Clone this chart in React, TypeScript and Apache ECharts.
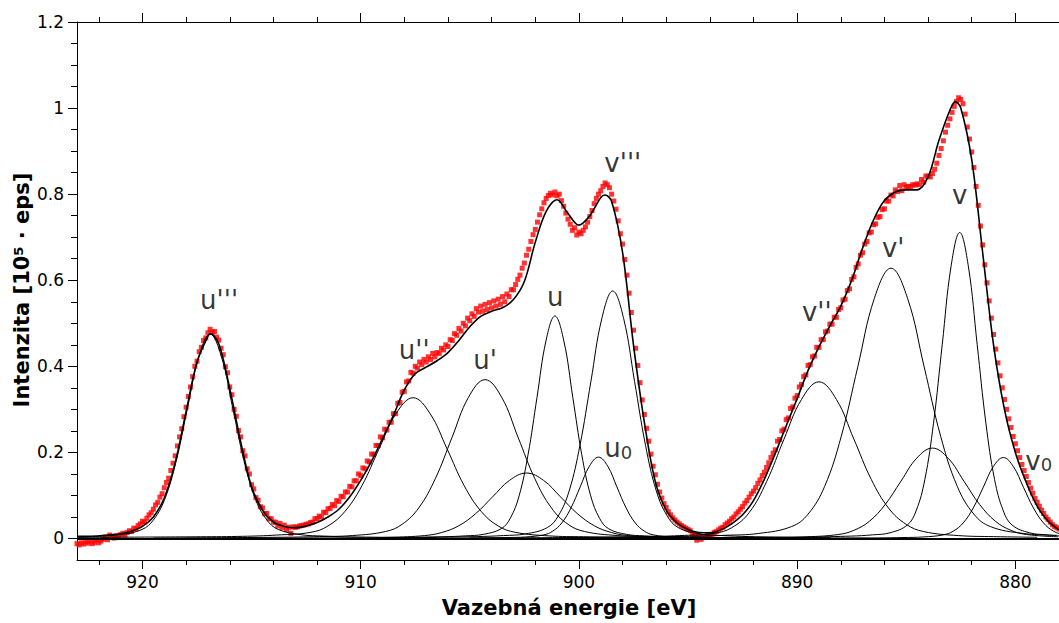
import React, { useEffect, useRef } from "react";
import * as echarts from "echarts";

// ---- axes ----
const X_MIN = 878;
const X_MAX = 923;
const Y_MIN = -0.05;
const Y_MAX = 1.2;
const X_MAJOR = [880, 890, 900, 910, 920];
const X_MINOR = [882, 884, 886, 888, 892, 894, 896, 898, 902, 904, 906, 908, 912, 914, 916, 918, 922];
const Y_MAJOR = [0, 0.2, 0.4, 0.6, 0.8, 1, 1.2];
const Y_MINOR = [0.05, 0.1, 0.15, 0.25, 0.3, 0.35, 0.45, 0.5, 0.55, 0.65, 0.7, 0.75, 0.85, 0.9, 0.95, 1.05, 1.1, 1.15];

// ---- measured spectrum: energy grid start & step (eV) and intensities ----
const MEAS_E_START = 923.0;
const MEAS_E_STEP = 0.1;
const MEASURED = [
  -0.012, -0.015, -0.010, -0.013, -0.008, -0.011, -0.006, -0.012, -0.009, -0.004,
  -0.010, -0.006, -0.002, 0.004, -0.003, 0.008, 0.005, 0.001, 0.006, 0.003,
  0.009, 0.012, 0.008, 0.014, 0.018, 0.016, 0.024, 0.022, 0.030, 0.034,
  0.040, 0.038, 0.047, 0.055, 0.060, 0.068, 0.078, 0.084, 0.096, 0.104,
  0.118, 0.130, 0.140, 0.158, 0.175, 0.192, 0.215, 0.236, 0.255, 0.283,
  0.305, 0.330, 0.352, 0.376, 0.400, 0.412, 0.434, 0.444, 0.460, 0.466,
  0.478, 0.486, 0.479, 0.481, 0.468, 0.461, 0.442, 0.427, 0.399, 0.385,
  0.352, 0.334, 0.300, 0.284, 0.251, 0.236, 0.204, 0.192, 0.162, 0.150,
  0.125, 0.115, 0.095, 0.089, 0.074, 0.071, 0.057, 0.058, 0.046, 0.046,
  0.038, 0.038, 0.029, 0.035, 0.025, 0.031, 0.021, 0.026, 0.012, 0.027,
  0.026, 0.027, 0.029, 0.030, 0.031, 0.033, 0.034, 0.037, 0.038, 0.046,
  0.046, 0.052, 0.050, 0.061, 0.060, 0.069, 0.070, 0.079, 0.076, 0.088,
  0.086, 0.098, 0.097, 0.108, 0.108, 0.121, 0.120, 0.134, 0.134, 0.150,
  0.146, 0.164, 0.162, 0.180, 0.178, 0.196, 0.196, 0.216, 0.216, 0.236,
  0.234, 0.254, 0.252, 0.270, 0.270, 0.290, 0.290, 0.314, 0.316, 0.340,
  0.342, 0.364, 0.366, 0.386, 0.384, 0.400, 0.396, 0.410, 0.404, 0.416,
  0.410, 0.422, 0.416, 0.430, 0.422, 0.432, 0.430, 0.442, 0.438, 0.450,
  0.446, 0.462, 0.460, 0.476, 0.472, 0.488, 0.482, 0.500, 0.494, 0.512,
  0.506, 0.522, 0.516, 0.534, 0.526, 0.540, 0.528, 0.544, 0.532, 0.548,
  0.536, 0.552, 0.540, 0.556, 0.544, 0.562, 0.550, 0.568, 0.562, 0.578,
  0.578, 0.590, 0.602, 0.612, 0.628, 0.640, 0.658, 0.672, 0.690, 0.706,
  0.718, 0.735, 0.752, 0.766, 0.780, 0.790, 0.797, 0.802, 0.798, 0.805,
  0.796, 0.800, 0.785, 0.772, 0.756, 0.742, 0.730, 0.716, 0.722, 0.705,
  0.712, 0.708, 0.716, 0.724, 0.735, 0.748, 0.762, 0.778, 0.790, 0.800,
  0.808, 0.818, 0.826, 0.822, 0.815, 0.800, 0.784, 0.765, 0.738, 0.708,
  0.684, 0.648, 0.612, 0.570, 0.525, 0.484, 0.442, 0.402, 0.362, 0.322,
  0.288, 0.256, 0.226, 0.196, 0.168, 0.148, 0.126, 0.108, 0.094, 0.081,
  0.072, 0.062, 0.055, 0.048, 0.043, 0.038, 0.034, 0.030, 0.027, 0.024,
  0.021, 0.018, 0.012, 0.008, -0.004, 0.006, -0.002, 0.004, 0.002, 0.008,
  0.006, 0.010, 0.014, 0.016, 0.020, 0.024, 0.026, 0.032, 0.036, 0.040,
  0.046, 0.050, 0.057, 0.062, 0.068, 0.074, 0.082, 0.088, 0.096, 0.104,
  0.110, 0.118, 0.128, 0.136, 0.146, 0.154, 0.165, 0.176, 0.188, 0.198,
  0.206, 0.226, 0.230, 0.250, 0.254, 0.276, 0.280, 0.302, 0.306, 0.326,
  0.332, 0.352, 0.358, 0.376, 0.380, 0.402, 0.404, 0.422, 0.424, 0.444,
  0.444, 0.462, 0.462, 0.480, 0.482, 0.498, 0.498, 0.514, 0.514, 0.532,
  0.536, 0.554, 0.556, 0.576, 0.580, 0.602, 0.608, 0.630, 0.638, 0.658,
  0.664, 0.684, 0.690, 0.710, 0.712, 0.729, 0.731, 0.746, 0.748, 0.764,
  0.766, 0.784, 0.784, 0.798, 0.796, 0.810, 0.806, 0.820, 0.808, 0.822,
  0.816, 0.818, 0.818, 0.822, 0.821, 0.824, 0.822, 0.834, 0.828, 0.842,
  0.842, 0.840, 0.848, 0.858, 0.872, 0.890, 0.906, 0.924, 0.944, 0.960,
  0.975, 0.990, 1.004, 1.015, 1.024, 1.020, 1.010, 0.986, 0.956, 0.928,
  0.898, 0.862, 0.818, 0.774, 0.726, 0.682, 0.636, 0.594, 0.552, 0.512,
  0.474, 0.440, 0.408, 0.378, 0.350, 0.323, 0.300, 0.278, 0.258, 0.237,
  0.220, 0.204, 0.188, 0.172, 0.158, 0.144, 0.130, 0.117, 0.105, 0.093,
  0.084, 0.075, 0.066, 0.058, 0.050, 0.044, 0.038, 0.032, 0.028, 0.025,
  0.022,
];

// ---- total fit envelope [E, I] ----
const FIT = [
  [923.0, 0.005], [922.5, 0.005], [922.0, 0.006], [921.5, 0.008], [921.0, 0.011], [920.5, 0.017],
  [920.0, 0.028], [919.5, 0.050], [919.0, 0.094], [918.5, 0.176], [918.0, 0.295], [917.5, 0.410],
  [917.0, 0.470], [916.9, 0.476], [916.5, 0.452], [916.0, 0.348], [915.5, 0.225], [915.0, 0.120],
  [914.5, 0.066], [914.0, 0.038], [913.5, 0.028], [913.0, 0.025], [912.5, 0.029], [912.0, 0.037],
  [911.5, 0.050], [911.0, 0.068], [910.5, 0.097], [910.0, 0.135], [909.5, 0.180], [909.0, 0.232],
  [908.5, 0.286], [908.0, 0.345], [907.5, 0.383], [907.0, 0.398], [906.5, 0.413], [906.0, 0.432],
  [905.5, 0.460], [905.0, 0.492], [904.5, 0.516], [904.0, 0.528], [903.5, 0.536], [903.0, 0.555],
  [902.5, 0.597], [902.0, 0.688], [901.5, 0.760], [901.0, 0.787], [900.5, 0.755], [900.0, 0.728],
  [899.5, 0.750], [899.0, 0.792], [898.8, 0.798], [898.5, 0.783], [898.0, 0.665], [897.5, 0.450],
  [897.0, 0.270], [896.5, 0.132], [896.0, 0.066], [895.5, 0.036], [895.0, 0.021], [894.5, 0.014],
  [894.0, 0.013], [893.5, 0.020], [893.0, 0.034], [892.5, 0.055], [892.0, 0.088], [891.5, 0.138],
  [891.0, 0.198], [890.5, 0.262], [890.0, 0.325], [889.5, 0.390], [889.0, 0.445], [888.5, 0.494],
  [888.0, 0.540], [887.5, 0.600], [887.0, 0.675], [886.5, 0.740], [886.0, 0.785], [885.5, 0.805],
  [885.0, 0.810], [884.5, 0.810], [884.0, 0.840], [883.5, 0.925], [883.0, 0.995], [882.75, 1.015],
  [882.5, 1.000], [882.0, 0.880], [881.5, 0.665], [881.0, 0.450], [880.5, 0.300], [880.0, 0.200],
  [879.5, 0.130], [879.0, 0.075], [878.5, 0.040], [878.0, 0.020],
];

// ---- fitted components [E, I] ----
const COMP_U3 = [
  [923.0, 0.004], [921.06, 0.0088], [920.02, 0.021], [919.5, 0.043], [918.98, 0.091], [918.46, 0.179],
  [917.94, 0.302], [917.42, 0.422], [916.9, 0.475], [916.38, 0.422], [915.86, 0.302], [915.34, 0.179],
  [914.82, 0.091], [914.3, 0.043], [913.78, 0.021], [912.74, 0.0088], [911.7, 0.0056], [910.4, 0.0037], [906.5, 0.0015],
];
const COMP_U2 = [
  [923.0, 0.0025], [917.35, 0.004], [915.4, 0.005], [913.84, 0.008], [912.28, 0.0144], [911.5, 0.029],
  [910.72, 0.063], [909.94, 0.123], [909.16, 0.208], [908.38, 0.29], [907.6, 0.327], [906.82, 0.29],
  [906.04, 0.208], [905.26, 0.123], [904.48, 0.063], [903.7, 0.029], [902.92, 0.0144], [901.36, 0.006],
  [899.8, 0.004], [897.85, 0.0025], [892.0, 0.001],
];
const COMP_U1 = [
  [919.5, 0.0011], [913.8, 0.0028], [911.9, 0.0044], [910.38, 0.0068], [908.86, 0.0162], [908.1, 0.033],
  [907.34, 0.071], [906.58, 0.139], [905.82, 0.234], [905.06, 0.328], [904.3, 0.369], [903.54, 0.328],
  [902.78, 0.234], [902.02, 0.139], [901.26, 0.071], [900.5, 0.033], [899.74, 0.0162], [898.22, 0.0068],
  [896.7, 0.0044], [894.8, 0.0028], [889.1, 0.0011],
];
const COMP_UX = [
  [918.0, 0.0005], [912.15, 0.0012], [910.2, 0.0018], [908.64, 0.0028], [907.08, 0.0067], [906.3, 0.0137],
  [905.52, 0.0292], [904.74, 0.0573], [903.96, 0.0965], [903.18, 0.135], [902.4, 0.152], [901.62, 0.135],
  [900.84, 0.0965], [900.06, 0.0573], [899.28, 0.0292], [898.5, 0.0137], [897.72, 0.0067], [896.16, 0.0028],
  [894.6, 0.0018], [892.65, 0.0012], [886.8, 0.0005],
];
const COMP_U = [
  [909.3, 0.0016], [906.225, 0.004], [905.2, 0.0061], [904.38, 0.0096], [903.56, 0.0227], [903.15, 0.0465],
  [902.74, 0.099], [902.33, 0.195], [901.92, 0.328], [901.51, 0.459], [901.1, 0.517], [900.69, 0.459],
  [900.28, 0.328], [899.87, 0.195], [899.46, 0.099], [899.05, 0.0465], [898.64, 0.0227], [897.82, 0.0096],
  [897.0, 0.0061], [895.975, 0.004], [892.9, 0.0016],
];
const COMP_U0 = [
  [907.5, 0.0006], [904.35, 0.0015], [903.3, 0.0022], [902.46, 0.0035], [901.62, 0.0083], [901.2, 0.017],
  [900.78, 0.0363], [900.36, 0.0713], [899.94, 0.12], [899.52, 0.168], [899.1, 0.189], [898.68, 0.168],
  [898.26, 0.12], [897.84, 0.0713], [897.42, 0.0363], [897.0, 0.017], [896.58, 0.0083], [895.74, 0.0035],
  [894.9, 0.0022], [893.85, 0.0015], [890.7, 0.0006],
];
const COMP_V3 = [
  [908.45, 0.0018], [904.7, 0.0044], [903.45, 0.0068], [902.45, 0.0106], [901.45, 0.0253], [900.95, 0.052],
  [900.45, 0.11], [899.95, 0.217], [899.45, 0.365], [898.95, 0.511], [898.45, 0.575], [897.95, 0.511],
  [897.45, 0.365], [896.95, 0.217], [896.45, 0.11], [895.95, 0.052], [895.45, 0.0253], [894.45, 0.0106],
  [893.45, 0.0068], [892.2, 0.0044], [888.45, 0.0018],
];
const COMP_V2 = [
  [905.0, 0.0011], [899.0, 0.0028], [897.0, 0.0043], [895.4, 0.0067], [893.8, 0.012], [893.0, 0.025],
  [892.2, 0.06], [891.4, 0.132], [890.6, 0.231], [889.8, 0.323], [889.0, 0.364], [888.2, 0.323],
  [887.4, 0.231], [886.6, 0.137], [885.8, 0.07], [885.0, 0.0328], [884.2, 0.016], [882.6, 0.0067],
  [881.0, 0.0043], [879.0, 0.0028],
];
const COMP_V1 = [
  [900.9, 0.0019], [895.2, 0.0048], [893.3, 0.0074], [891.78, 0.0116], [890.26, 0.0276], [889.5, 0.0565],
  [888.74, 0.121], [887.98, 0.237], [887.22, 0.399], [886.46, 0.558], [885.7, 0.628], [884.94, 0.558],
  [884.18, 0.399], [883.42, 0.237], [882.66, 0.121], [881.9, 0.0565], [881.14, 0.0276], [879.62, 0.0116],
  [878.1, 0.0074],
];
const COMP_VX = [
  [898.2, 0.00065], [892.8, 0.0016], [891.0, 0.0025], [889.56, 0.0039], [888.12, 0.0092], [887.4, 0.0189],
  [886.68, 0.0403], [885.96, 0.0792], [885.24, 0.1334], [884.52, 0.1865], [883.8, 0.21], [883.08, 0.1865],
  [882.36, 0.1334], [881.64, 0.0792], [880.92, 0.0403], [880.2, 0.0189], [879.48, 0.0092], [878.04, 0.0039],
];
const COMP_V = [
  [890.55, 0.0022], [887.55, 0.0055], [886.55, 0.0084], [885.75, 0.0132], [884.95, 0.0313], [884.55, 0.064],
  [884.15, 0.1365], [883.75, 0.268], [883.35, 0.451], [882.95, 0.631], [882.55, 0.711], [882.15, 0.631],
  [881.75, 0.451], [881.35, 0.268], [880.95, 0.1365], [880.55, 0.064], [880.15, 0.0313], [879.35, 0.0132],
  [878.55, 0.0084], [878.0, 0.006],
];
const COMP_V0 = [
  [889.75, 0.0006], [886.3, 0.0014], [885.15, 0.0022], [884.23, 0.0035], [883.31, 0.0083], [882.85, 0.0169],
  [882.39, 0.0361], [881.93, 0.0709], [881.47, 0.119], [881.01, 0.167], [880.55, 0.188], [880.09, 0.167],
  [879.63, 0.119], [879.17, 0.0709], [878.71, 0.0361], [878.25, 0.0169], [877.79, 0.0083],
];
const COMPONENTS = [COMP_U3, COMP_U2, COMP_U1, COMP_UX, COMP_U, COMP_U0, COMP_V3, COMP_V2, COMP_V1, COMP_VX, COMP_V, COMP_V0];

// ---- peak labels ----
const PEAK_NAMES = ["u'''", "u''", "u'", "u", "u{sub|0}", "v'''", "v''", "v'", "v", "v{sub|0}"];
const PEAK_E = [916.49, 907.55, 904.3, 901.09, 898.2, 897.99, 889.1, 885.6, 882.55, 878.93];
const PEAK_I = [0.553, 0.437, 0.414, 0.562, 0.21, 0.872, 0.526, 0.674, 0.797, 0.181];

const FONT = "DejaVu Sans";

function buildOption() {
  const measured = MEASURED.map((v, i) => [Math.round((MEAS_E_START - i * MEAS_E_STEP) * 100) / 100, v]);
  const baseX = {
    type: "value",
    min: X_MIN,
    max: X_MAX,
    inverse: true,
    splitLine: { show: false },
  };
  const baseY = {
    type: "value",
    min: Y_MIN,
    max: Y_MAX,
    splitLine: { show: false },
  };
  const line = { show: true, onZero: false, lineStyle: { color: "#000", width: 1 } };
  const tickStyle = { color: "#000", width: 1 };

  const componentSeries = COMPONENTS.map((c, i) => ({
    type: "line",
    name: "c" + i,
    data: c,
    smooth: 0.4,
    showSymbol: false,
    symbol: "none",
    silent: true,
    lineStyle: { color: "#000", width: 1 },
    z: 3,
  }));

  return {
    animation: false,
    backgroundColor: "#fff",
    textStyle: { fontFamily: FONT },
    grid: { left: 77, top: 22, width: 985, height: 538, containLabel: false },
    xAxis: [
      {
        ...baseX,
        position: "bottom",
        axisLine: line,
        axisTick: { show: true, customValues: X_MINOR, length: 5, lineStyle: tickStyle },
        axisLabel: { show: false },
      },
      {
        ...baseX,
        position: "bottom",
        axisLine: { show: false, onZero: false },
        axisTick: { show: true, customValues: X_MAJOR, length: 9, lineStyle: tickStyle },
        axisLabel: {
          show: true,
          customValues: X_MAJOR,
          color: "#000",
          fontSize: 17,
          fontFamily: FONT,
          margin: 13,
          formatter: (v: number) => String(v),
        },
      },
      {
        ...baseX,
        position: "top",
        axisLine: line,
        axisTick: { show: true, customValues: X_MINOR, length: 5, lineStyle: tickStyle },
        axisLabel: { show: false },
      },
      {
        ...baseX,
        position: "top",
        axisLine: { show: false, onZero: false },
        axisTick: { show: true, customValues: X_MAJOR, length: 9, lineStyle: tickStyle },
        axisLabel: { show: false },
      },
    ],
    yAxis: [
      {
        ...baseY,
        position: "left",
        axisLine: line,
        axisTick: { show: true, customValues: Y_MINOR, length: 6, lineStyle: tickStyle },
        axisLabel: { show: false },
      },
      {
        ...baseY,
        position: "left",
        axisLine: { show: false, onZero: false },
        axisTick: { show: true, customValues: Y_MAJOR, length: 9, lineStyle: tickStyle },
        axisLabel: {
          show: true,
          customValues: Y_MAJOR,
          color: "#000",
          fontSize: 17,
          fontFamily: FONT,
          margin: 13,
          formatter: (v: number) => String(v),
        },
      },
    ],
    graphic: [
      {
        type: "text",
        x: 569,
        y: 608,
        style: {
          text: "Vazebná energie [eV]",
          fill: "#000",
          fontSize: 21,
          fontWeight: "bold",
          fontFamily: FONT,
          align: "center",
          verticalAlign: "middle",
        },
      },
      {
        type: "text",
        x: 22,
        y: 290,
        rotation: Math.PI / 2,
        style: {
          text: "Intenzita [10{sup|5} · eps]",
          fill: "#000",
          fontSize: 21,
          fontWeight: "bold",
          fontFamily: FONT,
          align: "center",
          verticalAlign: "middle",
          rich: {
            sup: { fontSize: 13, fontWeight: "bold", fontFamily: FONT, fill: "#000", verticalAlign: "top" },
          },
        },
      },
    ],
    series: [
      {
        type: "scatter",
        name: "measured",
        data: measured,
        symbol: "rect",
        symbolSize: 5,
        itemStyle: { color: "#ff0000" },
        silent: true,
        z: 2,
      },
      ...componentSeries,
      {
        type: "line",
        name: "fit",
        data: FIT,
        smooth: 0.35,
        showSymbol: false,
        symbol: "none",
        silent: true,
        lineStyle: { color: "#000", width: 1.6 },
        z: 4,
        markLine: {
          silent: true,
          symbol: ["none", "none"],
          label: { show: false },
          lineStyle: { color: "#000", width: 2, type: "solid" },
          data: [{ yAxis: 0 }],
        },
      },
      {
        type: "scatter",
        name: "labels",
        data: PEAK_NAMES.map((n, i) => ({ name: n, value: [PEAK_E[i], PEAK_I[i]] })),
        symbolSize: 1,
        itemStyle: { color: "rgba(0,0,0,0)" },
        silent: true,
        z: 5,
        label: {
          show: true,
          position: "inside",
          formatter: (p: any) => p.name,
          color: "#000",
          fontSize: 26,
          fontFamily: FONT,
          rich: {
            sub: { fontSize: 18, fontFamily: FONT, color: "#000", verticalAlign: "bottom" },
          },
        },
      },
    ],
  };
}

export default function App() {
  const ref = useRef<HTMLDivElement>(null);
  useEffect(() => {
    if (!ref.current) return;
    const chart = echarts.init(ref.current, null, { renderer: "svg" });
    chart.setOption(buildOption() as any);
    return () => chart.dispose();
  }, []);
  return (
    <div
      ref={ref}
      style={{ position: "fixed", left: 0, top: 0, width: 1059, height: 623, background: "#fff" }}
    />
  );
}
